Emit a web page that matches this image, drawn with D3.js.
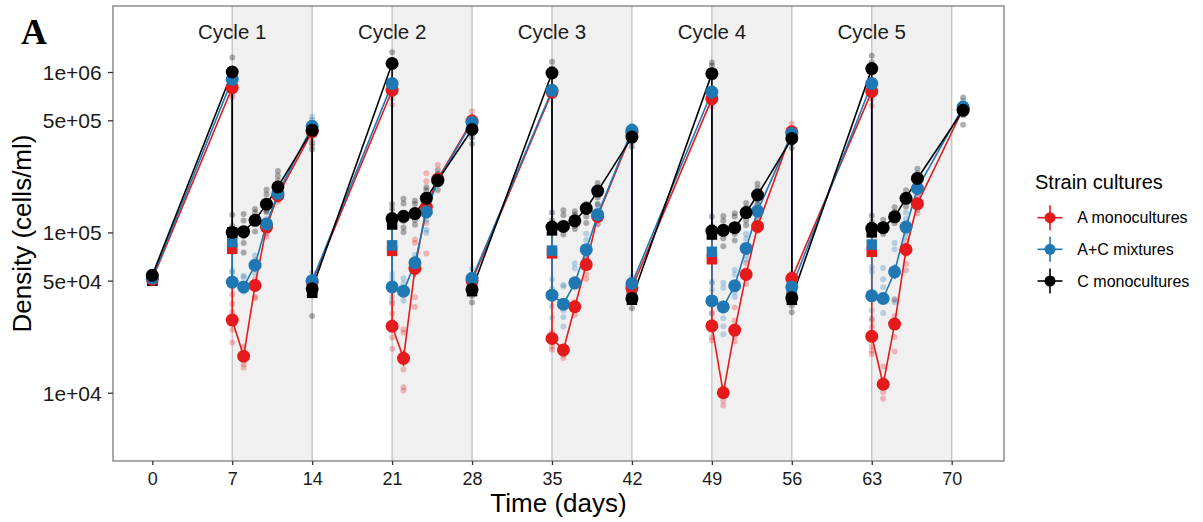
<!DOCTYPE html>
<html>
<head>
<meta charset="utf-8">
<script src="https://cdn.jsdelivr.net/npm/d3@7"></script>
<style>
  body { margin: 0; background: #fff; }
  svg { display: block; }
  text { font-family: "Liberation Sans", Arial, Helvetica, sans-serif; }
  text.tag { font-family: "Liberation Serif", "Times New Roman", serif; font-weight: bold; }
</style>
</head>
<body>
<svg id="chart" width="1203" height="522"></svg>
<script>
// ---- data -------------------------------------------------------------
// sampling days (a day listed twice = before / after the transfer)
const days = [0, 7, 7, 8, 9, 10, 11, 14, 14,
  21, 21, 22, 23, 24, 25, 28, 28,
  35, 35, 36, 37, 38, 39, 42, 42,
  49, 49, 50, 51, 52, 53, 56, 56,
  63, 63, 64, 65, 66, 67, 71];

const strainNames = ["A monocultures", "A+C mixtures", "C monocultures"];
const strainColors = ["#e41a1c", "#1f78b4", "#000000"];

// mean densities (cells/ml)
const meanA = [5.1e4, 8.0e5, 2.84e4, 1.69e4, 4.67e4, 1.08e5, 1.70e5, 4.25e5, 4.9e4,
  7.7e5, 2.6e4, 1.64e4, 5.96e4, 1.44e5, 2.15e5, 4.95e5, 5.0e4,
  7.5e5, 2.18e4, 1.85e4, 3.44e4, 6.3e4, 1.26e5, 4.2e5, 4.5e4,
  6.82e5, 2.61e4, 1.0e4, 2.46e4, 5.47e4, 1.09e5, 4.24e5, 5.17e4,
  7.58e5, 2.25e4, 1.13e4, 2.68e4, 7.82e4, 1.51e5, 5.9e5];
const meanAC = [5.2e4, 9.0e5, 4.9e4, 4.57e4, 6.25e4, 1.13e5, 1.75e5, 4.59e5, 5.0e4,
  8.47e5, 4.57e4, 4.3e4, 6.46e4, 1.34e5, 2.1e5, 4.85e5, 5.17e4,
  7.69e5, 4.06e4, 3.57e4, 4.85e4, 7.8e4, 1.29e5, 4.33e5, 4.8e4,
  7.5e5, 3.74e4, 3.43e4, 4.65e4, 7.94e4, 1.36e5, 4.13e5, 4.57e4,
  8.47e5, 4.02e4, 3.87e4, 5.68e4, 1.08e5, 1.88e5, 6.05e5];
const meanC = [5.4e4, 1.0e6, 1.0e5, 1.01e5, 1.19e5, 1.5e5, 1.92e5, 4.33e5, 4.45e4,
  1.13e6, 1.22e5, 1.26e5, 1.31e5, 1.63e5, 2.11e5, 4.38e5, 4.4e4,
  9.86e5, 1.08e5, 1.09e5, 1.18e5, 1.41e5, 1.81e5, 3.93e5, 3.87e4,
  9.77e5, 1.02e5, 1.03e5, 1.07e5, 1.33e5, 1.71e5, 3.85e5, 3.91e4,
  1.05e6, 1.06e5, 1.07e5, 1.25e5, 1.63e5, 2.17e5, 5.77e5];

// replicate cultures that stand out from the mean point:
// deviation from the mean, in hundredths of log10(cells/ml)
const repA = [[1,0,-1],[2,0,-4,-6],[16,10,5,-6,-14],[6,2,-5,-7],[4,1,-7,-8],[3,0,-4,-6],[2,0,-2,-4],[2,0,-5,-9],[3,1,-2,-4],
  [2,0,-5,-9],[14,8,3,-7,-14],[18,16,-7,-18,-20],[18,16,-18,-24],[21,16,-10,-29],[9,6,-2],[6,3,0,-3],[3,0,-3],
  [2,0,-3],[4,0,-5,-7],[2,-3,-5],[3,0,-5],[4,-6,-9],[3,0,-3,-5],[3,0,-3],[3,0,-3],
  [2,0,-3,-5],[8,3,-7,-9],[3,0,-5,-8],[14,6,-4,-7],[7,3,-6],[4,0,-3],[5,2,-2],[3,0,-3],
  [2,0,-5,-9],[10,6,-6,-9,-11],[11,3,-5,-9],[15,5,-8,-17],[5,-3,-9,-13],[4,0,-4,-6],[3,0,-3]];
const repAC = [[1,0,-1],[3,1,0,-2],[7,6,-1,-3],[7,6,-2,-3],[6,3,-5],[3,1,-2,-4],[3,1,-1,-3],[6,4,0,-2],[5,2,-2,-4],
  [2,0,-2],[8,5,-6,-9],[8,5,-2,-6],[5,2,-3,-5],[3,-5,-11,-13],[6,2,-2],[3,1,-2,-4],[6,2,-2,-4],
  [2,0,-2],[10,4,-7,-14],[12,11,-4,-8,-14],[12,9,-3],[10,6,-3,-6],[6,3,-3,-6],[3,1,-2],[4,1,-3],
  [2,0,-2],[12,11,7,-8],[15,12,-7,-12,-17],[10,7,-4,-7],[9,6,-4,-7],[5,2,-3,-5],[3,0,-3],[4,1,-3],
  [2,0,-2],[18,15,-9,-14],[19,12,7,-9],[18,14,-17,-19],[9,5,-3,-6],[5,2,-2,-4],[4,1,-2,-4]];
const repC = [[1,0,-1],[9,2,0,-1,-3],[11,4,1,-3,-12],[11,7,-3,-7,-13],[7,5,-2,-7],[9,6,-4,-5],[10,7,4,-8],[3,0,-8,-12],[2,-1,-3,-17],
  [7,2,0,-2],[9,6,-1,-3],[11,8,-3,-7,-10],[8,6,-4,-7],[7,5,-5],[4,2,-6],[3,1,-5,-9],[3,0,-4,-8],
  [7,3,0,-2],[9,4,-2,-4],[10,7,-2,-5],[6,4,-3,-5],[3,-2,-5,-9],[5,-4,-8],[3,0,-3,-6],[2,-2,-6],
  [7,5,0,-2],[9,3,-2,-4],[9,6,-5,-10],[9,7,-4,-8],[6,3,-5,-8],[7,4,-3,-6],[3,0,-3,-6],[3,-2,-5,-9],
  [8,4,0,-2],[8,4,-2,-4],[5,2,-2,-4],[6,3,-2,-4],[5,2,-2,-5],[6,3,-3,-5],[8,3,-3,-9]];
// cultures per strain treatment (the rest sit under the mean point)
const culturesPerStrain = 8;

// inoculum densities at each transfer (cells/ml)
const transferDays = [0, 7, 14, 21, 28, 35, 42, 49, 56, 63];
const inocA  = [5.0e4, 7.9e4, 4.25e4, 7.67e4, 4.95e4, 7.4e4, 4.2e4, 6.8e4, 4.24e4, 7.57e4];
const inocAC = [5.0e4, 8.7e4, 4.6e4, 8.3e4, 4.85e4, 7.7e4, 4.33e4, 7.57e4, 4.13e4, 8.4e4];
const inocC  = [5.0e4, 1.0e5, 4.2e4, 1.12e5, 4.3e4, 1.03e5, 3.8e4, 9.7e4, 3.8e4, 1.0e5];

// axis ticks, cycle bands and labels
const xTicks = [0, 7, 14, 21, 28, 35, 42, 49, 56, 63, 70];
const yTicks = [1e4, 5e4, 1e5, 5e5, 1e6];
const yTickLabels = ["1e+04", "5e+04", "1e+05", "5e+05", "1e+06"];
const bandStarts = [7, 21, 35, 49, 63];
const bandLength = 7;
const cycleLabels = ["Cycle 1", "Cycle 2", "Cycle 3", "Cycle 4", "Cycle 5"];
const panelTag = "A";
const xTitle = "Time (days)";
const yTitle = "Density (cells/ml)";
const legendTitle = "Strain cultures";

// ---- layout -----------------------------------------------------------
const panel = { left: 113, right: 1004, top: 6, bottom: 461 };
const svg = d3.select("#chart");

const x = d3.scaleLinear().domain([-3.44, 74.58]).range([panel.left, panel.right]);
const y = d3.scaleLog().domain([3755, 2.58e6]).range([panel.bottom, panel.top]);

const series = strainNames.map((name, k) => ({
  name,
  color: strainColors[k],
  means: [meanA, meanAC, meanC][k],
  reps: [repA, repAC, repC][k],
  inoc: [inocA, inocAC, inocC][k]
}));

// cycle bands
svg.append("g").selectAll("rect").data(bandStarts).join("rect")
  .attr("x", d => x(d)).attr("y", panel.top)
  .attr("width", d => x(d + bandLength) - x(d))
  .attr("height", panel.bottom - panel.top)
  .attr("fill", "#f0f0f0");

// transfer lines
svg.append("g").selectAll("line").data(xTicks.filter(d => d > 0)).join("line")
  .attr("x1", d => x(d)).attr("x2", d => x(d))
  .attr("y1", panel.top).attr("y2", panel.bottom)
  .attr("stroke", "#c4c4c4").attr("stroke-width", 1.4);

// cycle labels
svg.append("g").selectAll("text").data(bandStarts).join("text")
  .attr("x", d => x(d)).attr("y", 39)
  .attr("text-anchor", "middle")
  .attr("font-size", 20.5).attr("fill", "#1a1a1a")
  .text((d, i) => cycleLabels[i]);

const rep10 = (m, o) => m * Math.pow(10, o / 100);

// replicate cultures
series.forEach(s => {
  const pts = [];
  s.means.forEach((m, i) => s.reps[i].forEach(o => pts.push({ d: days[i], v: rep10(m, o) })));
  svg.append("g").selectAll("circle").data(pts).join("circle")
    .attr("cx", p => x(p.d)).attr("cy", p => y(p.v)).attr("r", 3)
    .attr("fill", s.color).attr("fill-opacity", s.color === "#000000" ? 0.3 : 0.28);
});

// trajectories of the means
const line = d3.line().x(p => x(p.d)).y(p => y(p.v));
series.forEach(s => {
  svg.append("path")
    .datum(s.means.map((m, i) => ({ d: days[i], v: m })))
    .attr("d", line).attr("fill", "none")
    .attr("stroke", s.color).attr("stroke-width", 1.6)
    .attr("stroke-linejoin", "round");
});

// standard errors
series.forEach(s => {
  const bars = s.means.map((m, i) => {
    const r = s.reps[i];
    const sd = Math.sqrt(d3.sum(r, o => o * o) / (culturesPerStrain - 1));
    const se = sd / Math.sqrt(culturesPerStrain);
    return { d: days[i], lo: rep10(m, -se), hi: rep10(m, se) };
  });
  svg.append("g").selectAll("line").data(bars).join("line")
    .attr("x1", b => x(b.d)).attr("x2", b => x(b.d))
    .attr("y1", b => y(b.lo)).attr("y2", b => y(b.hi))
    .attr("stroke", s.color).attr("stroke-width", 1.6);
});

// inoculum squares
const sq = 10.5;
series.forEach(s => {
  svg.append("g").selectAll("rect").data(s.inoc.map((v, i) => ({ d: transferDays[i], v }))).join("rect")
    .attr("x", p => x(p.d) - sq / 2).attr("y", p => y(p.v) - sq / 2)
    .attr("width", sq).attr("height", sq)
    .attr("fill", s.color);
});

// mean points
series.forEach(s => {
  svg.append("g").selectAll("circle").data(s.means.map((m, i) => ({ d: days[i], v: m }))).join("circle")
    .attr("cx", p => x(p.d)).attr("cy", p => y(p.v)).attr("r", 6.5)
    .attr("fill", s.color);
});

// panel border
svg.append("rect")
  .attr("x", panel.left).attr("y", panel.top)
  .attr("width", panel.right - panel.left).attr("height", panel.bottom - panel.top)
  .attr("fill", "none").attr("stroke", "#858585").attr("stroke-width", 1.4);

// x axis
const xAxis = svg.append("g").attr("transform", `translate(0,${panel.bottom})`)
  .call(d3.axisBottom(x).tickValues(xTicks).tickSize(4).tickFormat(d3.format("d")));
xAxis.select(".domain").remove();
xAxis.selectAll(".tick line").attr("stroke", "#333").attr("stroke-width", 1.3);
xAxis.selectAll(".tick text")
  .attr("y", 24).attr("dy", null)
  .attr("font-size", 18).attr("fill", "#1a1a1a");

// y axis
const yAxis = svg.append("g").attr("transform", `translate(${panel.left},0)`)
  .call(d3.axisLeft(y).tickValues(yTicks).tickSize(5)
    .tickFormat(d => yTickLabels[yTicks.indexOf(d)]));
yAxis.select(".domain").remove();
yAxis.selectAll(".tick line").attr("stroke", "#333").attr("stroke-width", 1.3);
yAxis.selectAll(".tick text")
  .attr("x", -11.3).attr("dy", "0.36em")
  .attr("font-size", 21).attr("fill", "#1a1a1a");

// axis titles
svg.append("text")
  .attr("x", (panel.left + panel.right) / 2).attr("y", 512)
  .attr("text-anchor", "middle").attr("font-size", 26).attr("fill", "#000")
  .text(xTitle);
svg.append("text")
  .attr("transform", `translate(30.5,${(panel.top + panel.bottom) / 2}) rotate(-90)`)
  .attr("text-anchor", "middle").attr("font-size", 26).attr("fill", "#000")
  .text(yTitle);

// panel tag
svg.append("text").attr("class", "tag")
  .attr("x", 21).attr("y", 44)
  .attr("font-size", 36)
  .text(panelTag);

// legend
const legend = svg.append("g");
legend.append("text")
  .attr("x", 1035).attr("y", 189)
  .attr("font-size", 20).attr("fill", "#000")
  .text(legendTitle);
const keyY = [217.7, 249.3, 281];
series.forEach((s, k) => {
  const g = legend.append("g").attr("transform", `translate(1050,${keyY[k]})`);
  g.append("line").attr("x1", -12.5).attr("x2", 12.5).attr("stroke", s.color).attr("stroke-width", 1.6);
  g.append("line").attr("y1", -12.5).attr("y2", 12.5).attr("stroke", s.color).attr("stroke-width", 1.6);
  g.append("circle").attr("r", 5.5).attr("fill", s.color);
  g.append("text").attr("x", 27.3).attr("dy", "0.36em")
    .attr("font-size", 16).attr("fill", "#000")
    .text(s.name);
});
</script>
</body>
</html>
